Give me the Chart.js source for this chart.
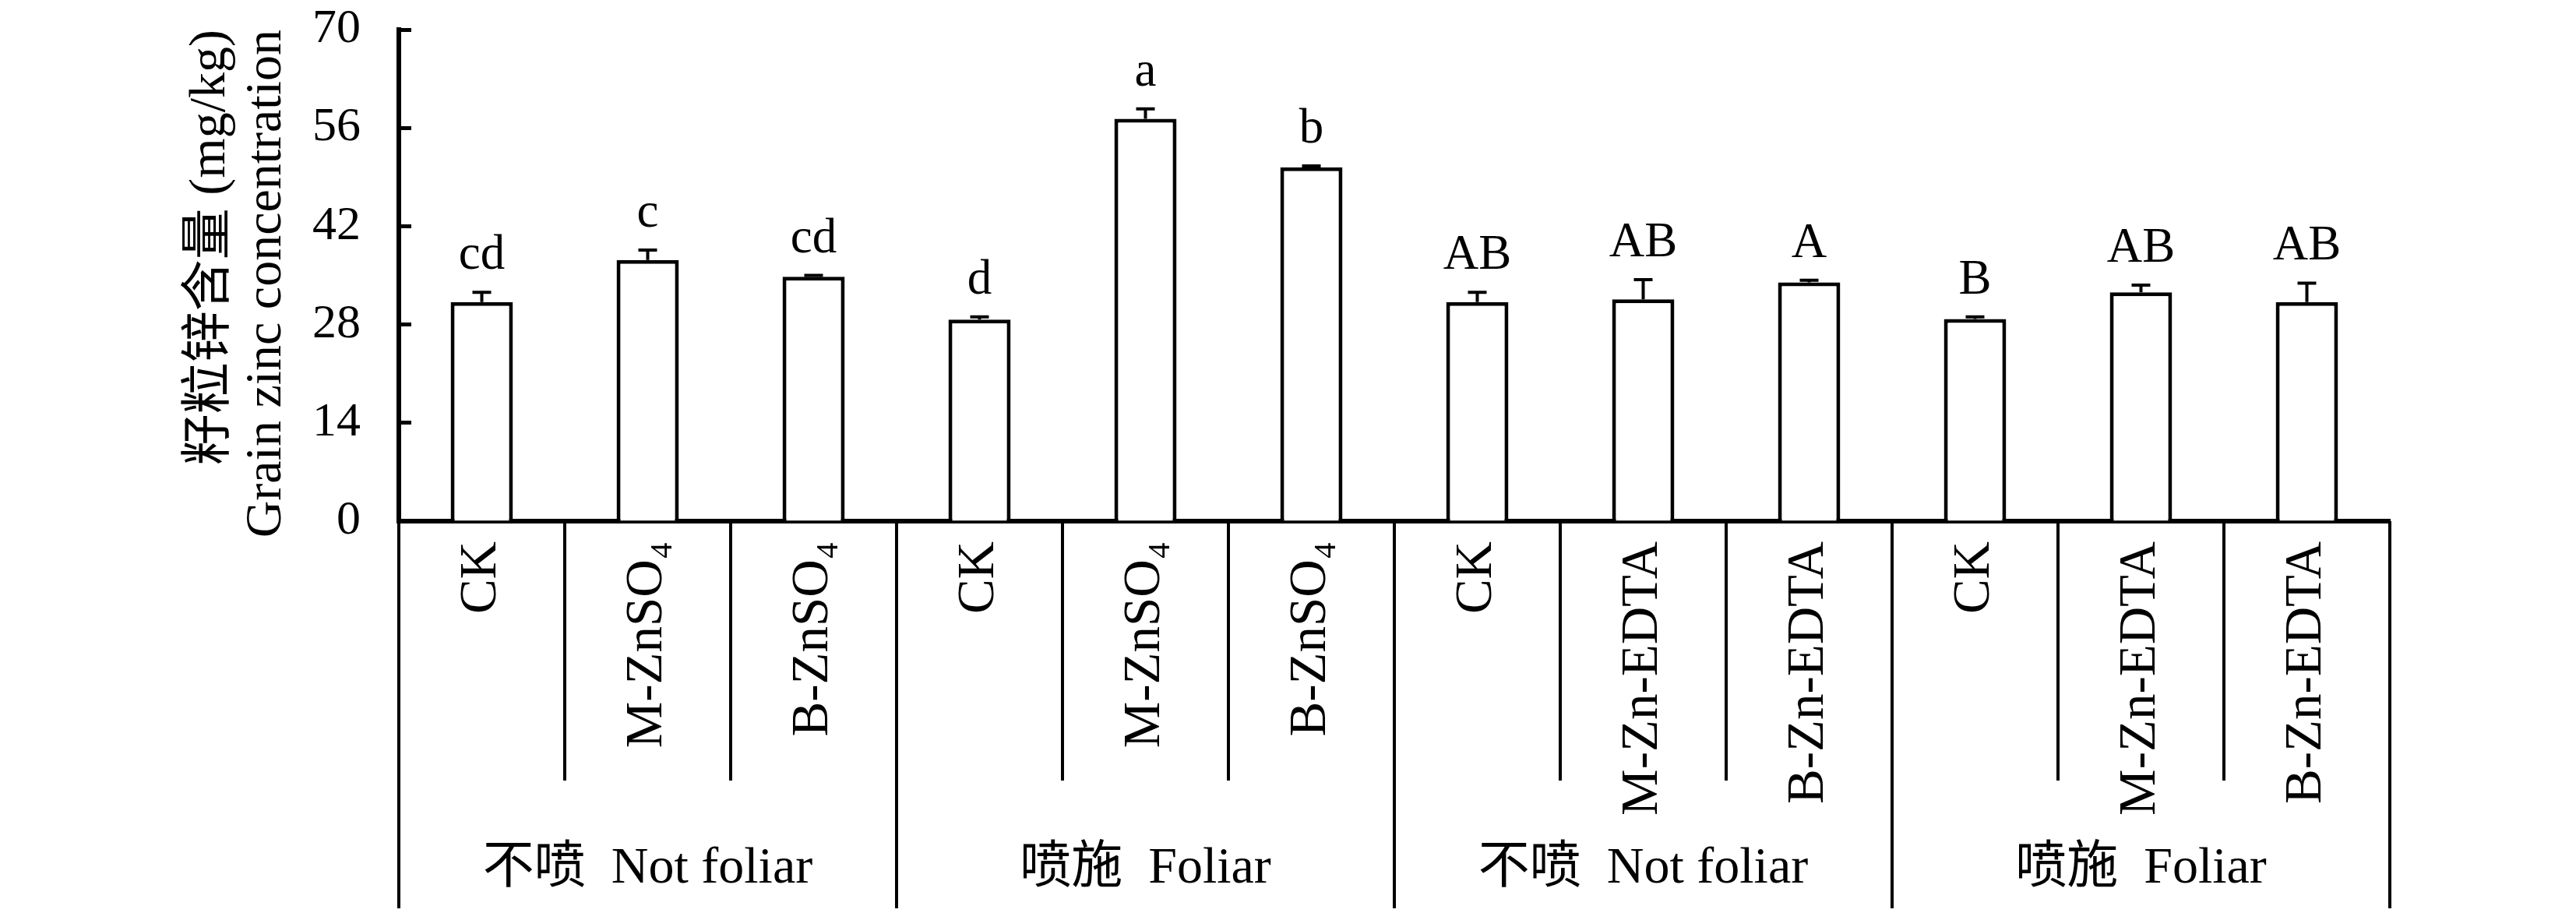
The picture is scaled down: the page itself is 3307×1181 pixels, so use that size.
<!DOCTYPE html>
<html>
<head>
<meta charset="utf-8">
<script src="https://cdn.jsdelivr.net/npm/chart.js@4"></script>
<style>html,body{margin:0;padding:0;background:#fff}</style>
</head>
<body>
<canvas id="zincChart" width="3307" height="1181"></canvas>
<script>
// treatments along the x axis, grouped in threes
const treatments = ['CK', 'M-ZnSO₄', 'B-ZnSO₄', 'CK', 'M-ZnSO₄', 'B-ZnSO₄',
    'CK', 'M-Zn-EDTA', 'B-Zn-EDTA', 'CK', 'M-Zn-EDTA', 'B-Zn-EDTA'];
const groups = ['不喷  Not foliar', '喷施  Foliar', '不喷  Not foliar', '喷施  Foliar'];
const zinc = [31.2, 37.2, 34.8, 28.7, 57.3, 50.4, 31.2, 31.6, 34.0, 28.8, 32.6, 31.2];
const zincErr = [1.4, 1.4, 0.2, 0.4, 1.4, 0.2, 1.4, 2.8, 0.3, 0.3, 1.0, 2.7];
const letters = ['cd', 'c', 'cd', 'd', 'a', 'b', 'AB', 'AB', 'A', 'B', 'AB', 'AB'];
const yTicks = [0, 14, 28, 42, 56, 70];

const serif = '"Liberation Serif", "Noto Sans CJK SC"';

// error bars, letters, group separators and group names
const extras = {
    id: 'extras',
    afterDatasetsDraw(chart) {
        const {ctx, scales: {x, y}} = chart;
        ctx.save();
        ctx.strokeStyle = '#000';
        ctx.fillStyle = '#000';
        ctx.lineWidth = 4;
        ctx.font = '63px ' + serif;
        ctx.textAlign = 'center';
        ctx.textBaseline = 'alphabetic';
        zinc.forEach((v, i) => {
            const cx = x.getPixelForValue(i);
            const yBar = y.getPixelForValue(v);
            const yTop = y.getPixelForValue(v + zincErr[i]);
            ctx.beginPath();
            ctx.moveTo(cx, yBar);
            ctx.lineTo(cx, yTop);
            ctx.moveTo(cx - 12, yTop);
            ctx.lineTo(cx + 12, yTop);
            ctx.stroke();
            ctx.fillText(letters[i], cx, yTop - 30);
        });
        ctx.restore();
    },
    afterDraw(chart) {
        const {ctx, chartArea, scales: {x}} = chart;
        const half = (x.getPixelForValue(1) - x.getPixelForValue(0)) / 2;
        ctx.save();
        ctx.strokeStyle = '#000';
        ctx.lineWidth = 4;
        for (let i = 0; i <= treatments.length; i++) {
            const bx = x.getPixelForValue(i) - half;
            ctx.beginPath();
            ctx.moveTo(bx, chartArea.bottom);
            ctx.lineTo(bx, chartArea.bottom + (i % 3 === 0 ? 497 : 333));
            ctx.stroke();
        }
        ctx.fillStyle = '#000';
        ctx.font = '66px ' + serif;
        ctx.textAlign = 'center';
        ctx.textBaseline = 'middle';
        groups.forEach((g, k) => {
            const gx = x.getPixelForValue(k * 3 + 1);
            ctx.fillText(g, gx, chartArea.bottom + 447);
        });
        ctx.restore();
    }
};

const ctx = document.getElementById('zincChart').getContext('2d');
const chart = new Chart(ctx, {
    type: 'bar',
    data: {
        labels: treatments,
        datasets: [{
            data: zinc,
            backgroundColor: '#fff',
            borderColor: '#000',
            borderWidth: 5,
            categoryPercentage: 1,
            barPercentage: 0.375
        }]
    },
    options: {
        responsive: false,
        animation: false,
        devicePixelRatio: 1,
        layout: {padding: {left: 0, top: 38, right: 239, bottom: 0}},
        plugins: {legend: {display: false}, tooltip: {enabled: false}},
        scales: {
            x: {
                grid: {display: false, drawTicks: false},
                border: {display: true, color: '#000', width: 6},
                ticks: {
                    color: '#000',
                    font: {family: serif, size: 67},
                    minRotation: 90,
                    maxRotation: 90,
                    autoSkip: false,
                    padding: 26
                },
                afterFit: (scale) => { scale.height = 512; }
            },
            y: {
                min: 0,
                max: 70,
                afterBuildTicks: (scale) => { scale.ticks = yTicks.map(v => ({value: v})); },
                grid: {drawOnChartArea: false, drawTicks: true, tickLength: -16, tickWidth: 5, tickColor: '#000'},
                border: {display: true, color: '#000', width: 6},
                ticks: {
                    color: '#000',
                    font: {family: serif, size: 62},
                    padding: 65
                },
                title: {
                    display: true,
                    text: ['籽粒锌含量 (mg/kg)', 'Grain zinc concentration'],
                    color: '#000',
                    align: 'end',
                    font: {family: serif, size: 66, lineHeight: 1.1},
                    padding: {top: 234, bottom: 0}
                },
                afterFit: (scale) => {
                    scale.width = 512;
                    scale.paddingTop = 0;
                    scale.paddingBottom = 0;
                }
            }
        }
    },
    plugins: [extras]
});
</script>
</body>
</html>
